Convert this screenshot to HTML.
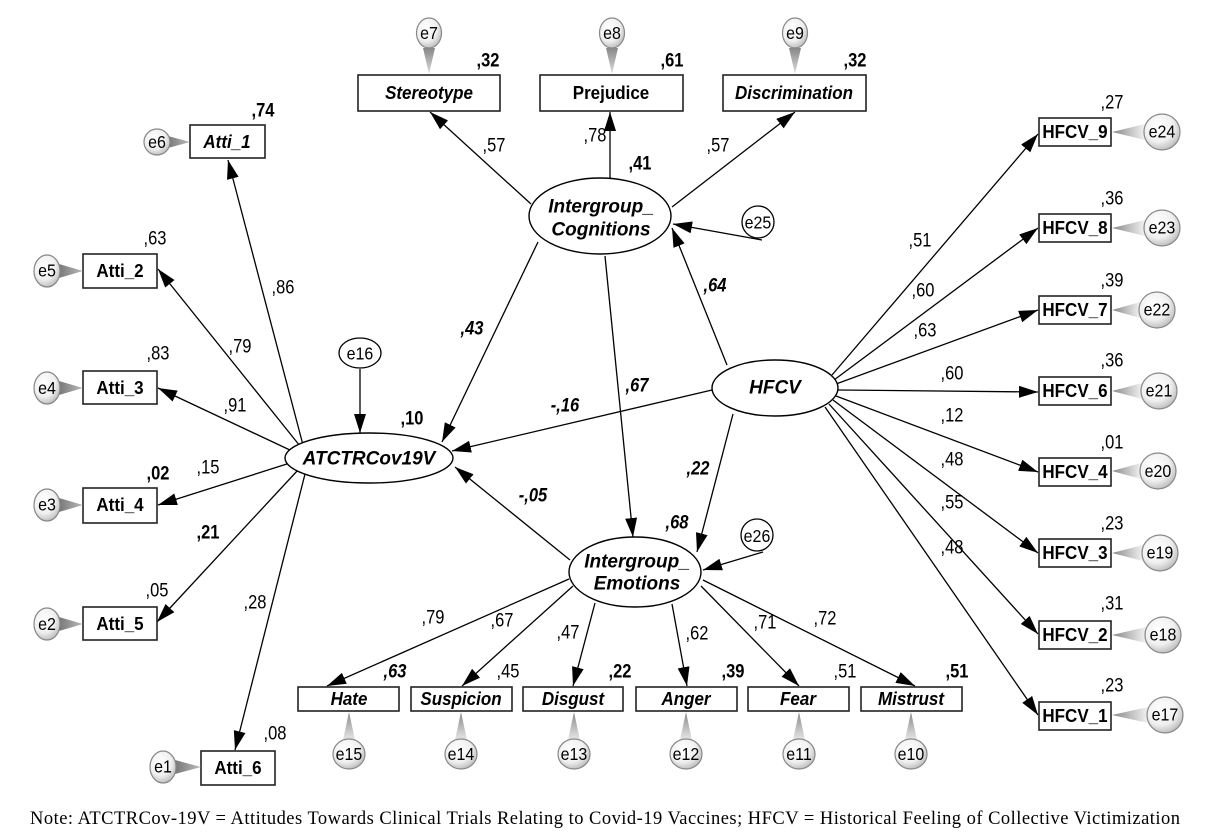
<!DOCTYPE html>
<html><head><meta charset="utf-8"><style>
html,body{margin:0;padding:0;background:#fff;}
svg{display:block;}
text{font-family:"Liberation Sans",Arial,sans-serif;fill:#000;}
.n{font-size:16.5px;text-anchor:middle;dominant-baseline:central;transform-box:fill-box;transform-origin:center;transform:scaleY(1.18);}
.b{font-weight:bold;}
.i{font-style:italic;}
.lbl{font-size:17px;font-weight:bold;text-anchor:middle;dominant-baseline:central;transform-box:fill-box;transform-origin:center;transform:scaleY(1.08);}
.el{font-size:19px;font-weight:bold;font-style:italic;text-anchor:middle;dominant-baseline:central;}
.e{font-size:16px;text-anchor:middle;dominant-baseline:central;transform-box:fill-box;transform-origin:center;transform:scaleY(1.1);}
.box{fill:#fff;stroke:#222;stroke-width:1.6;}
.ln{stroke:#000;stroke-width:1.3;fill:none;marker-end:url(#a);}
.ec{fill:url(#rg);stroke:#888;stroke-width:1.2;}
.oc{fill:#fff;stroke:#000;stroke-width:1.3;}
.tt{fill:url(#gt);}
.tl{fill:url(#gl);}
.tr{fill:url(#gr);}
.tb{fill:url(#gb);}
</style></head><body>
<svg width="1219" height="839" viewBox="0 0 1219 839" xmlns="http://www.w3.org/2000/svg">
<defs>
<marker id="a" viewBox="0 0 19 12" refX="19" refY="6" markerWidth="19" markerHeight="12" markerUnits="userSpaceOnUse" orient="auto"><path d="M0,0 L19,6 L0,12 z" fill="#000"/></marker>
<radialGradient id="rg" cx="0.4" cy="0.35" r="0.7"><stop offset="0" stop-color="#ffffff"/><stop offset="0.6" stop-color="#f0f0f0"/><stop offset="1" stop-color="#b8b8b8"/></radialGradient>
<linearGradient id="gt" x1="0" y1="0" x2="0" y2="1"><stop offset="0" stop-color="#888"/><stop offset="1" stop-color="#ddd"/></linearGradient>
<linearGradient id="gb" x1="0" y1="1" x2="0" y2="0"><stop offset="0" stop-color="#e8e8e8"/><stop offset="1" stop-color="#888"/></linearGradient>
<linearGradient id="gl" x1="0" y1="0" x2="1" y2="0"><stop offset="0" stop-color="#777"/><stop offset="1" stop-color="#bbb"/></linearGradient>
<linearGradient id="gr" x1="1" y1="0" x2="0" y2="0"><stop offset="0" stop-color="#f2f2f2"/><stop offset="1" stop-color="#888"/></linearGradient>
</defs>

<!-- ===== Lines: ATCTR -> Atti ===== -->
<line class="ln" x1="303" y1="445" x2="228" y2="160"/>
<line class="ln" x1="300" y1="446" x2="158" y2="269"/>
<line class="ln" x1="292" y1="451" x2="158" y2="388"/>
<line class="ln" x1="290" y1="463" x2="158" y2="505"/>
<line class="ln" x1="298" y1="470" x2="157" y2="622"/>
<line class="ln" x1="305" y1="474" x2="235" y2="750"/>

<!-- IC -> indicators -->
<line class="ln" x1="531" y1="204" x2="430" y2="112"/>
<line class="ln" x1="610" y1="178" x2="610" y2="112"/>
<line class="ln" x1="672" y1="207" x2="795" y2="112"/>
<!-- e25 -> IC -->
<line class="ln" x1="762" y1="240" x2="673" y2="224"/>
<!-- structural -->
<line class="ln" x1="727" y1="365" x2="672" y2="228"/>
<line class="ln" x1="538" y1="242" x2="442" y2="442"/>
<line class="ln" x1="605" y1="256" x2="633" y2="537"/>
<line class="ln" x1="712" y1="390" x2="452" y2="451"/>
<line class="ln" x1="570" y1="560" x2="455" y2="467"/>
<line class="ln" x1="733" y1="414" x2="697" y2="552"/>
<line class="ln" x1="763" y1="552" x2="703" y2="570"/>
<line class="ln" x1="360" y1="369" x2="360" y2="433"/>

<!-- IE -> indicators -->
<line class="ln" x1="569" y1="579" x2="327" y2="686"/>
<line class="ln" x1="573" y1="586" x2="462" y2="686"/>
<line class="ln" x1="595" y1="603" x2="573" y2="686"/>
<line class="ln" x1="672" y1="604" x2="687" y2="686"/>
<line class="ln" x1="701" y1="586" x2="799" y2="686"/>
<line class="ln" x1="703" y1="580" x2="915" y2="686"/>

<!-- HFCV -> indicators -->
<line class="ln" x1="832" y1="375" x2="1038" y2="134"/>
<line class="ln" x1="834" y1="380" x2="1038" y2="228"/>
<line class="ln" x1="836" y1="384" x2="1038" y2="310"/>
<line class="ln" x1="838" y1="390" x2="1038" y2="392"/>
<line class="ln" x1="836" y1="396" x2="1038" y2="472"/>
<line class="ln" x1="833" y1="400" x2="1038" y2="553"/>
<line class="ln" x1="829" y1="404" x2="1038" y2="634"/>
<line class="ln" x1="825" y1="407" x2="1038" y2="715"/>

<!-- ===== Ellipses ===== -->
<ellipse cx="600" cy="216" rx="71" ry="38" fill="#fff" stroke="#000" stroke-width="1.4"/>
<text class="el" x="601" y="207">Intergroup_</text>
<text class="el" x="601" y="230">Cognitions</text>

<ellipse cx="775" cy="388" rx="63" ry="28" fill="#fff" stroke="#000" stroke-width="1.4"/>
<text class="el" x="775" y="388">HFCV</text>

<ellipse cx="369" cy="458" rx="84" ry="25" fill="#fff" stroke="#000" stroke-width="1.4"/>
<text class="el" x="369" y="459">ATCTRCov19V</text>

<ellipse cx="635" cy="572" rx="66" ry="35" fill="#fff" stroke="#000" stroke-width="1.4"/>
<text class="el" x="637" y="562">Intergroup_</text>
<text class="el" x="637" y="584">Emotions</text>

<!-- structural residuals -->
<ellipse class="oc" cx="360" cy="353" rx="21" ry="15"/><text class="e" x="360" y="354">e16</text>
<circle class="oc" cx="758" cy="222" r="16"/><text class="e" x="758" y="223">e25</text>
<circle class="oc" cx="757" cy="535" r="16"/><text class="e" x="757" y="536">e26</text>

<!-- ===== Top boxes ===== -->
<rect class="box" x="358" y="75" width="142" height="36"/><text class="lbl i" x="429" y="93">Stereotype</text>
<rect class="box" x="540" y="75" width="143" height="36"/><text class="lbl" x="611" y="93">Prejudice</text>
<rect class="box" x="723" y="75" width="143" height="36"/><text class="lbl i" x="794" y="93">Discrimination</text>

<polygon class="tt" points="423,48 435,48 429,74"/><ellipse class="ec" cx="429" cy="33" rx="12.5" ry="15"/><text class="e" x="429" y="33">e7</text>
<polygon class="tt" points="606,48 618,48 612,74"/><ellipse class="ec" cx="612" cy="33" rx="12.5" ry="15"/><text class="e" x="612" y="33">e8</text>
<polygon class="tt" points="789,48 801,48 795,74"/><ellipse class="ec" cx="795" cy="33" rx="12.5" ry="15"/><text class="e" x="795" y="33">e9</text>

<!-- ===== Left boxes ===== -->
<rect class="box" x="190" y="125" width="75" height="33"/><text class="lbl i" x="227" y="142">Atti_1</text>
<rect class="box" x="83" y="254" width="74" height="34"/><text class="lbl" x="120" y="271">Atti_2</text>
<rect class="box" x="83" y="371" width="74" height="33"/><text class="lbl" x="120" y="388">Atti_3</text>
<rect class="box" x="83" y="488" width="74" height="35"/><text class="lbl" x="120" y="505">Atti_4</text>
<rect class="box" x="83" y="607" width="74" height="33"/><text class="lbl" x="120" y="624">Atti_5</text>
<rect class="box" x="201" y="751" width="74" height="34"/><text class="lbl" x="238" y="768">Atti_6</text>

<polygon class="tl" points="168,136 168,148 190,142"/><ellipse class="ec" cx="157" cy="142" rx="13" ry="13"/><text class="e" x="157" y="142">e6</text>
<polygon class="tl" points="59,264 59,278 83,271"/><ellipse class="ec" cx="47" cy="271" rx="13" ry="16"/><text class="e" x="47" y="271">e5</text>
<polygon class="tl" points="59,381 59,395 83,388"/><ellipse class="ec" cx="47" cy="388" rx="13" ry="16"/><text class="e" x="47" y="388">e4</text>
<polygon class="tl" points="59,498 59,512 83,505"/><ellipse class="ec" cx="47" cy="505" rx="13" ry="16"/><text class="e" x="47" y="505">e3</text>
<polygon class="tl" points="59,617 59,631 83,624"/><ellipse class="ec" cx="47" cy="624" rx="13" ry="16"/><text class="e" x="47" y="624">e2</text>
<polygon class="tl" points="175,760 175,774 201,767"/><ellipse class="ec" cx="163" cy="767" rx="13" ry="16"/><text class="e" x="163" y="767">e1</text>

<!-- ===== Bottom boxes ===== -->
<rect class="box" x="298" y="687" width="101" height="24"/><text class="lbl i" x="349" y="699">Hate</text>
<rect class="box" x="411" y="687" width="101" height="24"/><text class="lbl i" x="461" y="699">Suspicion</text>
<rect class="box" x="523" y="687" width="100" height="24"/><text class="lbl i" x="573" y="699">Disgust</text>
<rect class="box" x="636" y="687" width="101" height="24"/><text class="lbl i" x="686" y="699">Anger</text>
<rect class="box" x="748" y="687" width="101" height="24"/><text class="lbl i" x="798" y="699">Fear</text>
<rect class="box" x="861" y="687" width="101" height="24"/><text class="lbl i" x="911" y="699">Mistrust</text>

<polygon class="tb" points="343,740 355,740 349,712"/><ellipse class="ec" cx="349" cy="754" rx="16" ry="15"/><text class="e" x="349" y="754">e15</text>
<polygon class="tb" points="455,740 467,740 461,712"/><ellipse class="ec" cx="461" cy="754" rx="16" ry="15"/><text class="e" x="461" y="754">e14</text>
<polygon class="tb" points="568,740 580,740 574,712"/><ellipse class="ec" cx="574" cy="754" rx="16" ry="15"/><text class="e" x="574" y="754">e13</text>
<polygon class="tb" points="680,740 692,740 686,712"/><ellipse class="ec" cx="686" cy="754" rx="16" ry="15"/><text class="e" x="686" y="754">e12</text>
<polygon class="tb" points="793,740 805,740 799,712"/><ellipse class="ec" cx="799" cy="754" rx="16" ry="15"/><text class="e" x="799" y="754">e11</text>
<polygon class="tb" points="905,740 917,740 911,712"/><ellipse class="ec" cx="911" cy="754" rx="16" ry="15"/><text class="e" x="911" y="754">e10</text>

<!-- ===== Right boxes ===== -->
<rect class="box" x="1039" y="118" width="72" height="28"/><text class="lbl" x="1075" y="132">HFCV_9</text>
<rect class="box" x="1039" y="214" width="72" height="28"/><text class="lbl" x="1075" y="228">HFCV_8</text>
<rect class="box" x="1039" y="296" width="72" height="28"/><text class="lbl" x="1075" y="310">HFCV_7</text>
<rect class="box" x="1039" y="377" width="72" height="28"/><text class="lbl" x="1075" y="391">HFCV_6</text>
<rect class="box" x="1039" y="458" width="72" height="28"/><text class="lbl" x="1075" y="472">HFCV_4</text>
<rect class="box" x="1039" y="539" width="72" height="28"/><text class="lbl" x="1075" y="553">HFCV_3</text>
<rect class="box" x="1039" y="621" width="72" height="28"/><text class="lbl" x="1075" y="635">HFCV_2</text>
<rect class="box" x="1039" y="702" width="72" height="28"/><text class="lbl" x="1075" y="716">HFCV_1</text>

<polygon class="tr" points="1145,124 1145,140 1112,132"/><circle class="ec" cx="1162" cy="132" r="18"/><text class="e" x="1162" y="132">e24</text>
<polygon class="tr" points="1145,220 1145,236 1112,228"/><circle class="ec" cx="1162" cy="228" r="18"/><text class="e" x="1162" y="228">e23</text>
<polygon class="tr" points="1140,302 1140,318 1112,310"/><circle class="ec" cx="1157" cy="310" r="18"/><text class="e" x="1157" y="310">e22</text>
<polygon class="tr" points="1142,383 1142,399 1112,391"/><circle class="ec" cx="1159" cy="391" r="18"/><text class="e" x="1159" y="391">e21</text>
<polygon class="tr" points="1141,463 1141,479 1112,471"/><circle class="ec" cx="1158" cy="471" r="18"/><text class="e" x="1158" y="471">e20</text>
<polygon class="tr" points="1143,545 1143,561 1112,553"/><circle class="ec" cx="1160" cy="553" r="18"/><text class="e" x="1160" y="553">e19</text>
<polygon class="tr" points="1146,627 1146,643 1112,635"/><circle class="ec" cx="1163" cy="635" r="18"/><text class="e" x="1163" y="635">e18</text>
<polygon class="tr" points="1148,707 1148,723 1112,715"/><circle class="ec" cx="1165" cy="715" r="18"/><text class="e" x="1165" y="715">e17</text>

<!-- ===== Coefficients ===== -->
<!-- top -->
<text class="n b" x="488" y="60">,32</text>
<text class="n b" x="672" y="60">,61</text>
<text class="n b" x="855" y="60">,32</text>
<text class="n" x="494" y="145">,57</text>
<text class="n" x="595" y="135">,78</text>
<text class="n b" x="640" y="163">,41</text>
<text class="n" x="718" y="145">,57</text>
<!-- left -->
<text class="n b" x="263" y="110">,74</text>
<text class="n" x="155" y="238">,63</text>
<text class="n" x="283" y="287">,86</text>
<text class="n" x="240" y="346">,79</text>
<text class="n" x="158" y="353">,83</text>
<text class="n" x="235" y="405">,91</text>
<text class="n" x="208" y="467">,15</text>
<text class="n b" x="158" y="473">,02</text>
<text class="n b" x="208" y="532">,21</text>
<text class="n" x="157" y="590">,05</text>
<text class="n" x="255" y="602">,28</text>
<text class="n" x="275" y="733">,08</text>
<text class="n b" x="412" y="418">,10</text>
<!-- structural -->
<text class="n b i" x="472" y="328">,43</text>
<text class="n b i" x="715" y="285">,64</text>
<text class="n b i" x="637" y="385">,67</text>
<text class="n b i" x="565" y="405">-,16</text>
<text class="n b i" x="698" y="468">,22</text>
<text class="n b i" x="533" y="495">-,05</text>
<text class="n b i" x="677" y="522">,68</text>
<!-- bottom -->
<text class="n" x="433" y="617">,79</text>
<text class="n" x="502" y="620">,67</text>
<text class="n" x="568" y="632">,47</text>
<text class="n" x="697" y="633">,62</text>
<text class="n" x="765" y="622">,71</text>
<text class="n" x="825" y="618">,72</text>
<text class="n b i" x="395" y="671">,63</text>
<text class="n" x="508" y="671">,45</text>
<text class="n b" x="620" y="671">,22</text>
<text class="n b" x="733" y="671">,39</text>
<text class="n" x="845" y="671">,51</text>
<text class="n b" x="957" y="671">,51</text>
<!-- right paths -->
<text class="n" x="920" y="240">,51</text>
<text class="n" x="923" y="290">,60</text>
<text class="n" x="925" y="330">,63</text>
<text class="n" x="952" y="373">,60</text>
<text class="n" x="952" y="415">,12</text>
<text class="n" x="952" y="459">,48</text>
<text class="n" x="952" y="502">,55</text>
<text class="n" x="952" y="547">,48</text>
<!-- right R2 -->
<text class="n" x="1112" y="102">,27</text>
<text class="n" x="1112" y="198">,36</text>
<text class="n" x="1112" y="280">,39</text>
<text class="n" x="1112" y="360">,36</text>
<text class="n" x="1112" y="442">,01</text>
<text class="n" x="1112" y="523">,23</text>
<text class="n" x="1112" y="603">,31</text>
<text class="n" x="1112" y="685">,23</text>

<!-- footnote -->
<text x="30" y="824" textLength="1150" lengthAdjust="spacing" style="font-family:'Liberation Serif','Times New Roman',serif;font-size:18.5px;">Note: ATCTRCov-19V = Attitudes Towards Clinical Trials Relating to Covid-19 Vaccines; HFCV = Historical Feeling of Collective Victimization</text>
</svg>
</body></html>
